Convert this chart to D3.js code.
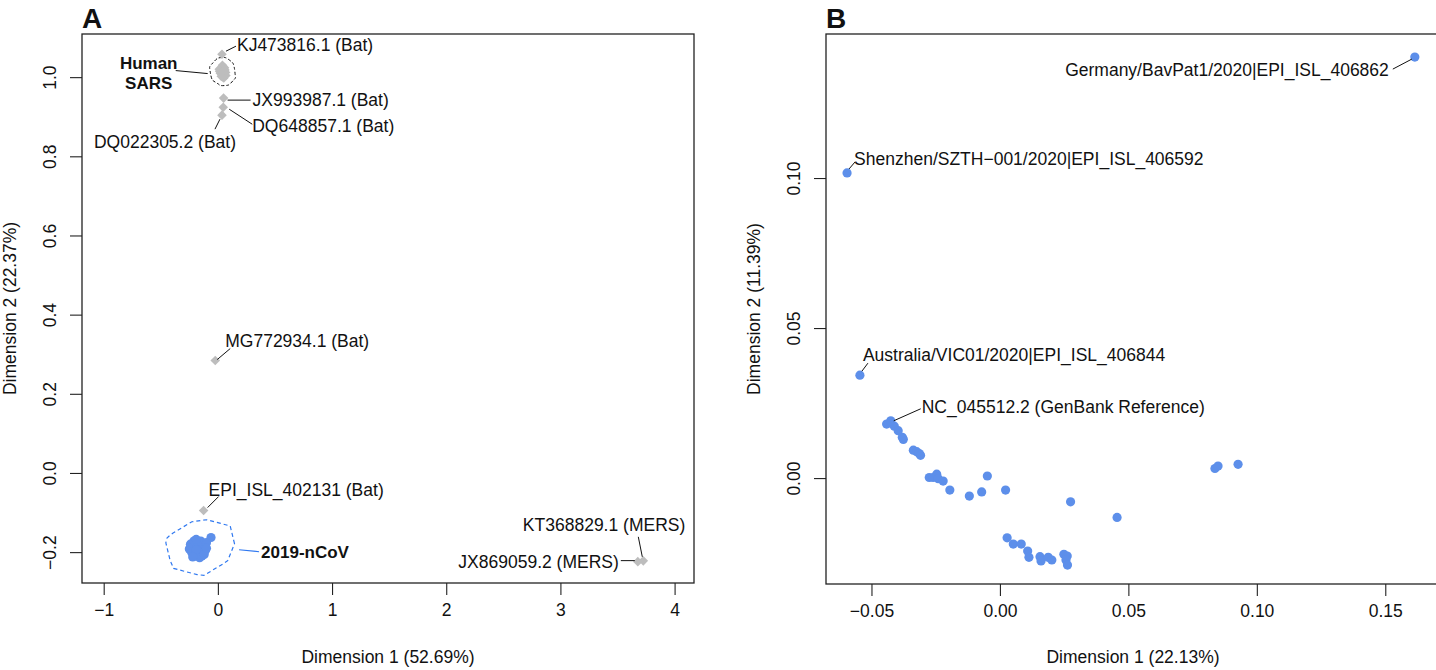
<!DOCTYPE html>
<html>
<head>
<meta charset="utf-8">
<script src="https://cdnjs.cloudflare.com/ajax/libs/d3/7.8.5/d3.min.js"></script>
<style>
body { margin: 0; background: #fff; }
svg text { font-family: "Liberation Sans", Arial, Helvetica, sans-serif; fill: #111; }
</style>
</head>
<body>
<div id="chart"></div>
<script>
// ---- panel A : all coronavirus genomes ----
var batNames = ["KJ473816.1 (Bat)", "JX993987.1 (Bat)", "DQ648857.1 (Bat)", "DQ022305.2 (Bat)", "MG772934.1 (Bat)", "EPI_ISL_402131 (Bat)"];
var batX = [0.036, 0.050, 0.047, 0.036, -0.023, -0.125];
var batY = [1.058, 0.947, 0.924, 0.904, 0.284, -0.095];

var mersNames = ["KT368829.1 (MERS)", "JX869059.2 (MERS)"];
var mersX = [3.726, 3.678];
var mersY = [-0.222, -0.224];

var sarsX = [0.015, 0.030, 0.040, 0.055, 0.068, 0.035, 0.045, 0.022, 0.058, 0.040, 0.030, 0.052, 0.070, 0.012, 0.045, 0.062];
var sarsY = [1.015, 1.024, 1.026, 1.020, 1.012, 1.008, 1.000, 1.010, 1.024, 1.030, 1.002, 0.998, 1.004, 1.020, 1.014, 1.018];

var ncovX = [-0.25, -0.24, -0.21, -0.20, -0.18, -0.17, -0.16, -0.14, -0.13, -0.12, -0.21, -0.17, -0.15, -0.14, -0.11, -0.23, -0.19, -0.06, -0.10, -0.16, -0.19, -0.12, -0.22, -0.10];
var ncovY = [-0.192, -0.180, -0.172, -0.205, -0.186, -0.192, -0.178, -0.200, -0.188, -0.182, -0.210, -0.208, -0.172, -0.210, -0.196, -0.200, -0.168, -0.163, -0.176, -0.214, -0.194, -0.206, -0.212, -0.190];

var ticksAx = [-1, 0, 1, 2, 3, 4];
var ticksAy = [-0.2, 0.0, 0.2, 0.4, 0.6, 0.8, 1.0];

// ---- panel B : 2019-nCoV genomes only ----
var genomeX = [-0.0441, -0.0411, -0.0396, -0.0380, -0.0376, -0.0337, -0.0324, -0.0314, -0.0309, -0.0275, -0.0260, -0.0246, -0.0240, -0.0221, -0.0195, -0.0119, -0.0071, -0.0049, 0.0022, 0.0275, 0.0028, 0.0052, 0.0083, 0.0108, 0.0113, 0.0156, 0.0160, 0.0188, 0.0202, 0.0249, 0.0262, 0.0257, 0.0263, 0.0456, 0.0837, 0.0849, 0.0927];
var genomeY = [0.0180, 0.0173, 0.0158, 0.0136, 0.0129, 0.0093, 0.0088, 0.0082, 0.0076, 0.0002, 0.0002, 0.0013, -0.0002, -0.0010, -0.0040, -0.0060, -0.0046, 0.0007, -0.0040, -0.0079, -0.0199, -0.0220, -0.0220, -0.0243, -0.0264, -0.0262, -0.0276, -0.0264, -0.0273, -0.0254, -0.0260, -0.0273, -0.0290, -0.0131, 0.0032, 0.0040, 0.0046];

var namedNames = ["Germany/BavPat1/2020|EPI_ISL_406862", "Shenzhen/SZTH\u2212001/2020|EPI_ISL_406592", "Australia/VIC01/2020|EPI_ISL_406844", "NC_045512.2 (GenBank Reference)"];
var namedX = [0.1615, -0.0595, -0.0545, -0.0425];
var namedY = [0.1403, 0.1017, 0.0343, 0.0191];

var ticksBx = [-0.05, 0.00, 0.05, 0.10, 0.15];
var ticksBy = [0.00, 0.05, 0.10];

// label placement (pixel offsets from the point: leader line x1,y1,x2,y2 then text dx,dy,anchor)
var labelPos = {
  "KJ473816.1 (Bat)": [4, -3, 14, -8, 15, -9, "start"],
  "JX993987.1 (Bat)": [4, 2, 27, 2, 29, 2, "start"],
  "DQ648857.1 (Bat)": [6, 2, 29, 17, 29, 19, "start"],
  "DQ022305.2 (Bat)": [-2, 4, -7, 14, -57, 27, "middle"],
  "MG772934.1 (Bat)": [2, -1, 15, -12, 10, -20, "start"],
  "EPI_ISL_402131 (Bat)": [4, -3, 15, -14, 5, -21, "start"],
  "KT368829.1 (MERS)": [-1, -4, -5, -24, 42, -36, "end"],
  "JX869059.2 (MERS)": [-17, -1, -3, -1, -19, 0, "end"],
  "Germany/BavPat1/2020|EPI_ISL_406862": [-3, 2, -22, 12, -26, 13, "end"],
  "Shenzhen/SZTH\u2212001/2020|EPI_ISL_406592": [2, -4, 8, -11, 7, -14, "start"],
  "Australia/VIC01/2020|EPI_ISL_406844": [2, -4, 8, -12, 3, -20, "start"],
  "NC_045512.2 (GenBank Reference)": [3, 0, 30, -12, 31, -14, "start"]
};

var W = 1436, H = 670;
var fs = 17.5;
var grey = "#bdbdbd", blue = "#5d8fea", hullBlue = "#2f78f0";

var svg = d3.select("#chart").append("svg")
  .attr("width", W)
  .attr("height", H)
  .style("background", "#fff");

var boxA = {l: 82, r: 694, t: 34, b: 583};
var boxB = {l: 826, r: 1440, t: 34, b: 584};

var xA = d3.scaleLinear().domain([-1.19, 4.17]).range([boxA.l, boxA.r]);
var yA = d3.scaleLinear().domain([-0.278, 1.109]).range([boxA.b, boxA.t]);
var xB = d3.scaleLinear().domain([-0.0677, 0.1713]).range([boxB.l, boxB.r]);
var yB = d3.scaleLinear().domain([-0.0353, 0.148]).range([boxB.b, boxB.t]);

function drawFrame(box, x, y, xt, yt, fmtX, fmtY, xTitle, yTitle, letter) {
  var gx = svg.append("g")
    .attr("transform", "translate(0," + box.b + ")")
    .call(d3.axisBottom(x).tickValues(xt).tickSize(12).tickPadding(9).tickFormat(fmtX));
  var gy = svg.append("g")
    .attr("transform", "translate(" + box.l + ",0)")
    .call(d3.axisLeft(y).tickValues(yt).tickSize(12).tickFormat(fmtY));
  [gx, gy].forEach(function(g) {
    g.select(".domain").remove();
    g.selectAll("line").attr("stroke", "#222").attr("stroke-width", 1.1);
    g.selectAll("text").style("font-size", fs + "px").attr("fill", "#111");
  });
  // R style: y labels parallel to the axis
  gy.selectAll("text")
    .attr("x", null).attr("dy", null)
    .attr("text-anchor", "middle")
    .attr("transform", "translate(-26,0) rotate(-90)");

  svg.append("rect")
    .attr("x", box.l).attr("y", box.t)
    .attr("width", box.r - box.l).attr("height", box.b - box.t)
    .attr("fill", "none").attr("stroke", "#222").attr("stroke-width", 1.3);

  svg.append("text")
    .attr("x", (box.l + Math.min(box.r, W)) / 2 + (box.r > W ? 2 : 0))
    .attr("y", 663)
    .attr("text-anchor", "middle")
    .style("font-size", fs + "px")
    .text(xTitle);
  svg.append("text")
    .attr("transform", "translate(" + (box.l - 66) + "," + ((box.t + box.b) / 2) + ") rotate(-90)")
    .attr("text-anchor", "middle")
    .style("font-size", fs + "px")
    .text(yTitle);
  svg.append("text")
    .attr("x", box.l).attr("y", 28)
    .style("font-size", "28px").style("font-weight", "bold")
    .text(letter);
}

drawFrame(boxA, xA, yA, ticksAx, ticksAy, d3.format("d"), d3.format(".1f"), "Dimension 1 (52.69%)", "Dimension 2 (22.37%)", "A");
drawFrame(boxB, xB, yB, ticksBx, ticksBy, d3.format(".2f"), d3.format(".2f"), "Dimension 1 (22.13%)", "Dimension 2 (11.39%)", "B");

function zip(xs, ys) { return xs.map(function(v, i) { return [v, ys[i]]; }); }

// hull of the points grown by an ellipse of radius (ex, ey) with n corners
function grownHull(pts, ex, ey, n, rot) {
  var all = [];
  pts.forEach(function(p) {
    for (var k = 0; k < n; k++) {
      var a = rot + k * 2 * Math.PI / n;
      all.push([p[0] + ex * Math.cos(a), p[1] + ey * Math.sin(a)]);
    }
  });
  return d3.polygonHull(all);
}

var sarsPx = zip(sarsX, sarsY).map(function(d) { return [xA(d[0]), yA(d[1])]; });
var ncovPx = zip(ncovX, ncovY).map(function(d) { return [xA(d[0]), yA(d[1])]; });

// hulls
svg.append("path")
  .attr("d", d3.line().curve(d3.curveCardinalClosed.tension(0.3))(grownHull(sarsPx, 10, 8, 8, 0.3)))
  .attr("fill", "none").attr("stroke", "#111").attr("stroke-width", 1)
  .attr("stroke-dasharray", "3,2");
svg.append("path")
  .attr("d", d3.line().curve(d3.curveLinearClosed)(grownHull(ncovPx, 25, 18, 6, 0.35)))
  .attr("fill", "none").attr("stroke", hullBlue).attr("stroke-width", 1.2)
  .attr("stroke-dasharray", "4,3");

var diamond = d3.symbol().type(d3.symbolSquare).size(46);

function diamonds(xs, ys) {
  svg.append("g").selectAll("path")
    .data(zip(xs, ys))
    .enter()
    .append("path")
      .attr("d", diamond)
      .attr("transform", function(d) { return "translate(" + xA(d[0]) + "," + yA(d[1]) + ") rotate(45)"; })
      .attr("fill", grey);
}
diamonds(sarsX, sarsY);
diamonds(batX, batY);
diamonds(mersX, mersY);

svg.append("g").selectAll("circle")
  .data(ncovPx)
  .enter()
  .append("circle")
    .attr("cx", function(d) { return d[0]; })
    .attr("cy", function(d) { return d[1]; })
    .attr("r", 4.6)
    .attr("fill", blue);

svg.append("g").selectAll("circle")
  .data(zip(genomeX, genomeY).concat(zip(namedX, namedY)))
  .enter()
  .append("circle")
    .attr("cx", function(d) { return xB(d[0]); })
    .attr("cy", function(d) { return yB(d[1]); })
    .attr("r", 4.6)
    .attr("fill", blue);

function labels(names, xs, ys, x, y) {
  names.forEach(function(n, i) {
    var p = labelPos[n], px = x(xs[i]), py = y(ys[i]);
    svg.append("line")
      .attr("x1", px + p[0]).attr("y1", py + p[1])
      .attr("x2", px + p[2]).attr("y2", py + p[3])
      .attr("stroke", "#111").attr("stroke-width", 1);
    svg.append("text")
      .attr("x", px + p[4]).attr("y", py + p[5])
      .attr("dy", "0.35em")
      .attr("text-anchor", p[6])
      .style("font-size", fs + "px")
      .text(n);
  });
}
labels(batNames, batX, batY, xA, yA);
labels(mersNames, mersX, mersY, xA, yA);
labels(namedNames, namedX, namedY, xB, yB);

// group labels
var cs = [d3.mean(sarsPx, function(d) { return d[0]; }), d3.mean(sarsPx, function(d) { return d[1]; })];
svg.append("line")
  .attr("x1", cs[0] - 47).attr("y1", cs[1] - 1)
  .attr("x2", cs[0] - 15).attr("y2", cs[1] + 2)
  .attr("stroke", "#111").attr("stroke-width", 1);
["Human", "SARS"].forEach(function(t, i) {
  svg.append("text")
    .attr("x", cs[0] - 74).attr("y", cs[1] - 9 + i * 20)
    .attr("dy", "0.35em")
    .attr("text-anchor", "middle")
    .style("font-size", "17px").style("font-weight", "bold")
    .text(t);
});

var cn = [d3.mean(ncovPx, function(d) { return d[0]; }), d3.mean(ncovPx, function(d) { return d[1]; })];
svg.append("line")
  .attr("x1", cn[0] + 40).attr("y1", cn[1] + 1)
  .attr("x2", cn[0] + 60).attr("y2", cn[1] + 3)
  .attr("stroke", hullBlue).attr("stroke-width", 1.2);
svg.append("text")
  .attr("x", cn[0] + 62).attr("y", cn[1] + 3)
  .attr("dy", "0.35em")
  .style("font-size", "17px").style("font-weight", "bold")
  .text("2019-nCoV");
</script>
</body>
</html>
